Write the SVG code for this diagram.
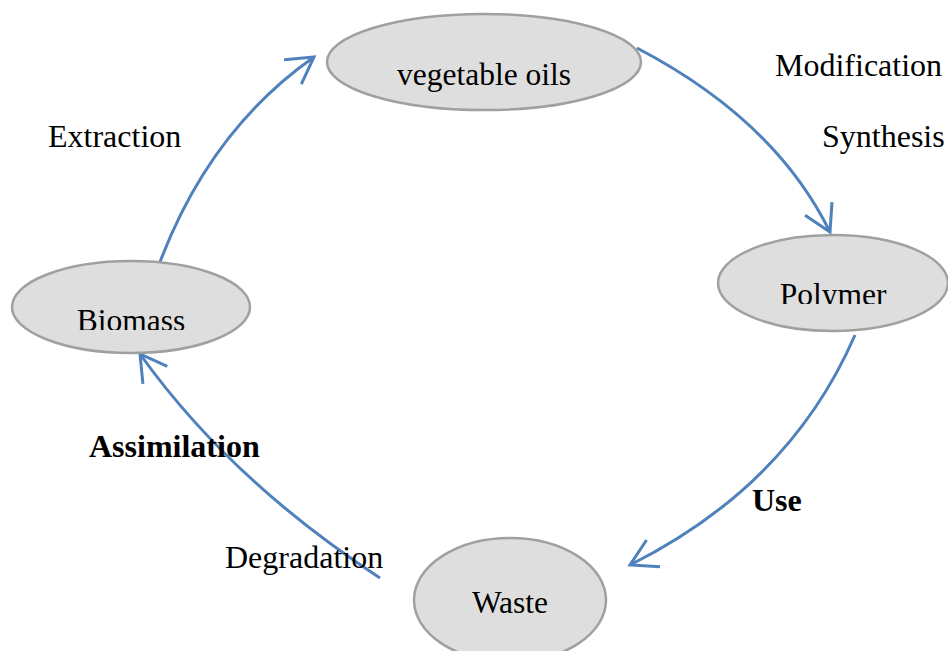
<svg xmlns="http://www.w3.org/2000/svg" width="948" height="651" viewBox="0 0 948 651">
<style>
.n{fill:#dedede;stroke:#a0a0a0;stroke-width:2.5}
text{font-family:'Liberation Serif','Times New Roman',serif;font-size:32px;fill:#000}
.s{font-size:31.5px}
.b{font-weight:bold}
.c{fill:none;stroke:#4f81bd;stroke-width:3}
</style>
<defs>
<marker id="ah" markerUnits="userSpaceOnUse" markerWidth="40" markerHeight="40" refX="0" refY="0" viewBox="-30 -20 32 40" orient="auto" overflow="visible">
<path d="M-26,-15 L0,0 L-26,15" fill="none" stroke="#4f81bd" stroke-width="3"/>
</marker>
<clipPath id="cv"><rect x="300" y="0" width="360" height="92"/></clipPath>
<clipPath id="cb"><rect x="0" y="250" width="260" height="80"/></clipPath>
<clipPath id="cp"><rect x="700" y="220" width="248" height="84"/></clipPath>
</defs>
<rect width="948" height="651" fill="#fff"/>
<g id="connectors">
<path class="c" d="M160,262 Q210,130 314,57" marker-end="url(#ah)"/>
<path class="c" d="M637,48 Q775,120 830,232" marker-end="url(#ah)"/>
<path class="c" d="M855,335 Q790,485 630,565" marker-end="url(#ah)"/>
<path class="c" d="M380,578 Q230,480 140,354" marker-end="url(#ah)"/>
</g>
<g id="veg">
<ellipse class="n" cx="484" cy="62" rx="157" ry="48"/>
<text class="s" x="484" y="85" text-anchor="middle" clip-path="url(#cv)">vegetable oils</text>
</g>
<g id="biomass">
<ellipse class="n" cx="131" cy="307" rx="119" ry="46"/>
<text class="s" x="131" y="331" text-anchor="middle" clip-path="url(#cb)">Biomass</text>
</g>
<g id="polymer">
<ellipse class="n" cx="833" cy="283" rx="115" ry="48"/>
<text class="s" x="833" y="305" text-anchor="middle" clip-path="url(#cp)">Polymer</text>
</g>
<g id="waste">
<ellipse class="n" cx="510" cy="600" rx="96" ry="62"/>
<text class="s" x="510" y="613" text-anchor="middle">Waste</text>
</g>
<g id="labels">
<text x="48" y="147">Extraction</text>
<text x="775" y="76">Modification</text>
<text x="822" y="147">Synthesis</text>
<text class="b" x="89" y="457">Assimilation</text>
<text class="b" x="752" y="511">Use</text>
<text x="225" y="568">Degradation</text>
</g>
</svg>
